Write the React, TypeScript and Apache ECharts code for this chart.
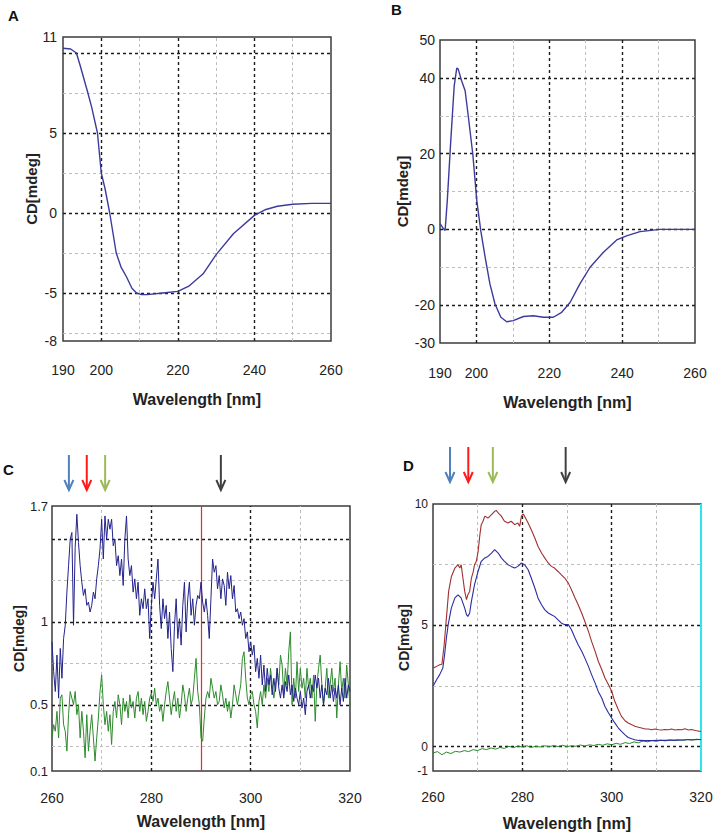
import React, { useEffect, useRef } from "react";
import * as echarts from "echarts";

// ---------- Panel A ----------
const aWave = [190, 192, 193.5, 194.5, 196.5, 197.5, 199, 200, 201, 202.2, 203.9, 205.2, 206.6, 208, 209.2, 210.5, 212, 216, 220, 223, 226.6, 230, 234.5, 240, 243, 246, 250, 255, 260];
const aCD = [10.3, 10.25, 10.0, 9.2, 7.5, 6.6, 5.0, 2.5, 1.5, 0, -2.5, -3.4, -4.0, -4.7, -5.0, -5.1, -5.1, -5.0, -4.9, -4.55, -3.8, -2.6, -1.3, -0.15, 0.22, 0.42, 0.55, 0.6, 0.6];
const aXLabels = [190, 200, 220, 240, 260];
const aYLabels = [11, 5, 0, -5, -8];

// ---------- Panel B ----------
const bWave = [190, 190.7, 191.4, 192, 192.9, 193.9, 194.6, 195, 195.9, 196.9, 197.8, 199, 200.1, 201.2, 202.4, 203.7, 205.1, 206.7, 208.3, 210.1, 212.9, 215.6, 218.4, 221.1, 223.4, 225.7, 228.4, 231.2, 234.8, 238.5, 241.2, 244.9, 248.6, 250.4, 260];
const bCD = [1.5, 0.5, -0.3, 7.6, 22.5, 37.9, 42.6, 42.3, 39.3, 36.6, 29.6, 19.9, 7.6, -0.4, -7.4, -14.4, -19.7, -23.2, -24.4, -24.1, -23, -22.8, -23.2, -23.2, -21.9, -19.3, -14.4, -10.0, -6.1, -2.8, -1.7, -0.6, -0.2, 0, 0];
const bXLabels = [190, 200, 220, 240, 260];
const bYLabels = [50, 40, 20, 0, -20, -30];

// ---------- Panel C (sampled every 1/3 nm from 260 nm) ----------
const cStart = 260;
const cStep = 1 / 3;
const cBlue = [
  0.88, 0.70, 0.58, 0.80, 0.54, 0.84, 0.66, 0.90, 0.98, 1.18,
  1.34, 1.50, 1.54, 0.98, 1.45, 1.65, 1.48, 1.34, 1.24, 1.16,
  1.20, 1.10, 1.12, 1.06, 1.10, 1.18, 1.14, 1.26, 1.34, 1.44,
  1.62, 1.38, 1.64, 1.50, 1.62, 1.56, 1.62, 1.46, 1.50, 1.34,
  1.40, 1.28, 1.38, 1.22, 1.50, 1.64, 1.38, 1.28, 1.34, 1.18,
  1.26, 1.14, 1.24, 1.04, 1.14, 1.08, 1.20, 1.08, 1.14, 0.90,
  1.10,
  1.24, 1.14, 1.26, 1.38, 1.10, 0.96, 1.14, 1.02, 1.10, 0.90,
  1.06, 0.84, 0.70, 0.98, 1.14, 0.90, 1.02, 0.86, 1.10, 1.24,
  0.94, 1.14, 1.24, 1.04, 1.14, 0.98, 1.10, 1.16, 1.14, 1.24,
  1.12, 1.06, 1.14, 1.04, 0.90, 1.14, 1.38, 1.30, 1.34, 1.20,
  1.28, 1.14, 1.26, 1.22, 1.10, 1.30, 1.20, 1.28, 1.14, 1.22,
  1.06, 1.08, 1.02, 1.06, 0.98, 1.02, 0.90, 0.94, 0.82, 0.88,
  0.80, 0.86, 0.70, 0.78, 0.66, 0.80, 0.62, 0.74, 0.58, 0.72,
  0.62, 0.68, 0.56, 0.66, 0.58, 0.72, 0.60, 0.54, 0.62, 0.54,
  0.64, 0.58, 0.68, 0.56, 0.62, 0.52, 0.60, 0.54, 0.50, 0.58,
  0.48, 0.54, 0.44, 0.58, 0.62, 0.54, 0.62, 0.58, 0.68, 0.60,
  0.66, 0.54, 0.62, 0.50, 0.60, 0.56, 0.66, 0.54, 0.62, 0.52,
  0.60, 0.54, 0.62, 0.50, 0.60, 0.52, 0.66, 0.54, 0.62, 0.58,
];
const cGreen = [
  0.30, 0.38, 0.34, 0.46, 0.30, 0.54, 0.56, 0.38, 0.34, 0.22,
  0.44, 0.58, 0.54, 0.50, 0.58, 0.44, 0.50, 0.30, 0.46, 0.34,
  0.18, 0.44, 0.22, 0.34, 0.44, 0.30, 0.16, 0.30, 0.42, 0.58,
  0.68, 0.50, 0.38, 0.46, 0.34, 0.44, 0.26, 0.46, 0.52, 0.42,
  0.56, 0.50, 0.38, 0.54, 0.46, 0.52, 0.42, 0.56, 0.48, 0.52,
  0.42, 0.54, 0.58, 0.46, 0.54, 0.44, 0.52, 0.40, 0.46, 0.54,
  0.57,
  0.52, 0.60, 0.50, 0.54, 0.46, 0.50, 0.40, 0.50, 0.58, 0.64,
  0.54, 0.44, 0.52, 0.58, 0.46, 0.54, 0.42, 0.50, 0.62, 0.56,
  0.46, 0.54, 0.60, 0.50, 0.54, 0.66, 0.78, 0.58, 0.50, 0.30,
  0.28, 0.42, 0.54, 0.58, 0.54, 0.66, 0.60, 0.54, 0.58, 0.50,
  0.52, 0.62, 0.56, 0.48, 0.54, 0.46, 0.52, 0.42, 0.50, 0.62,
  0.56, 0.50, 0.56, 0.62, 0.78, 0.82, 0.66, 0.54, 0.50, 0.56,
  0.58, 0.50, 0.46, 0.36, 0.52, 0.58, 0.50, 0.62, 0.54, 0.66,
  0.58, 0.72, 0.62, 0.54, 0.62, 0.72, 0.62, 0.80, 0.74, 0.56,
  0.72, 0.62, 0.82, 0.94, 0.50, 0.66, 0.54, 0.76, 0.58, 0.72,
  0.60, 0.66, 0.54, 0.72, 0.60, 0.66, 0.54, 0.68, 0.40, 0.62,
  0.72, 0.80, 0.62, 0.50, 0.60, 0.72, 0.54, 0.62, 0.72, 0.58,
  0.66, 0.42, 0.62, 0.76, 0.58, 0.66, 0.54, 0.74, 0.62, 0.50,
];
const cXLabels = [260, 280, 300, 320];
const cYLabels = [1.7, 1, 0.5, 0.1];
const cMarkedNm = 290;
const cArrowNm = [263.4, 267.0, 270.7, 294.0];

// ---------- Panel D ----------
const dRedWave = [260, 260.8, 261.5, 262, 262.5, 263, 263.5, 264.1, 264.9, 265.6, 266, 266.3, 266.7, 267.1, 267.5, 267.8, 268.2, 268.6, 269, 269.3, 269.7, 270.1, 270.5, 270.8, 271.2, 271.6, 272.3, 273.1, 273.8, 274.2, 274.6, 275.3, 276, 276.8, 277.5, 278.3, 279, 279.4, 279.8, 280.2, 280.5, 281.3, 282, 282.8, 283.5, 284.3, 285, 285.8, 286.5, 287.2, 288, 288.7, 289.5, 290.3, 291, 291.8, 292.5, 293.3, 294, 294.8, 295.5, 296.3, 297, 297.8, 298.5, 299.3, 300, 300.7, 301.5, 302.2, 303, 303.7, 304.5, 305.2, 306, 306.7, 307.5, 308.2, 309, 309.7, 310.5, 311.2, 311.9, 312.7, 313.4, 314.2, 314.9, 315.7, 316.4, 317.2, 317.9, 318.7, 320];
const dRed = [3.24, 3.31, 3.38, 3.4, 4.2, 5.3, 6.4, 7.0, 7.36, 7.5, 7.36, 7.5, 6.95, 6.4, 6.06, 6.26, 6.4, 6.95, 7.2, 7.5, 7.64, 8.05, 8.74, 9.15, 9.29, 9.5, 9.42, 9.56, 9.7, 9.73, 9.63, 9.5, 9.29, 9.22, 9.29, 9.15, 9.22, 9.08, 9.5, 9.59, 9.5, 9.22, 8.94, 8.6, 8.26, 7.98, 7.78, 7.57, 7.43, 7.36, 7.22, 7.09, 6.95, 6.74, 6.47, 6.13, 5.85, 5.5, 5.16, 4.75, 4.34, 3.93, 3.52, 3.17, 2.83, 2.55, 2.28, 1.87, 1.52, 1.25, 1.07, 0.98, 0.91, 0.84, 0.8, 0.77, 0.73, 0.73, 0.7, 0.73, 0.7, 0.69, 0.71, 0.7, 0.73, 0.69, 0.71, 0.7, 0.74, 0.69, 0.71, 0.67, 0.63];
const dBlueWave = [260, 260.8, 261.5, 262.2, 262.6, 263, 263.4, 264.1, 264.9, 265.6, 266.3, 267.1, 267.5, 267.8, 268.2, 268.6, 269.3, 270.1, 270.8, 271.6, 272.3, 273.1, 273.8, 274.6, 275.3, 276, 276.8, 277.5, 278.3, 279, 279.8, 280.5, 281.3, 282, 282.8, 283.5, 284.3, 285, 285.8, 286.5, 287.2, 288, 288.7, 289.5, 290.3, 291, 291.8, 292.5, 293.3, 294, 294.8, 295.5, 296.3, 297, 297.8, 298.5, 299.3, 300, 300.7, 301.5, 302.2, 303, 303.7, 304.5, 305.2, 306, 307.5, 309, 310.5, 312, 313.4, 315, 316.4, 318, 320];
const dBlue = [2.49, 2.76, 2.97, 3.24, 3.79, 4.48, 5.03, 5.71, 6.13, 6.26, 6.13, 5.71, 5.44, 5.37, 5.5, 5.99, 6.68, 7.23, 7.64, 7.78, 7.84, 7.98, 8.12, 7.98, 7.78, 7.64, 7.5, 7.43, 7.36, 7.43, 7.57, 7.5, 7.29, 6.95, 6.54, 6.13, 5.85, 5.65, 5.51, 5.44, 5.37, 5.23, 5.1, 5.03, 5.03, 4.82, 4.48, 4.2, 3.93, 3.65, 3.31, 2.97, 2.62, 2.28, 2.0, 1.66, 1.39, 1.18, 0.98, 0.77, 0.63, 0.49, 0.38, 0.33, 0.29, 0.26, 0.25, 0.25, 0.26, 0.26, 0.27, 0.27, 0.29, 0.29, 0.3];
const dGreenStart = 260;
const dGreen = [
  -0.26, -0.2, -0.33, -0.22, -0.28, -0.19, -0.22, -0.16, -0.2, -0.12,
  -0.16, -0.08, -0.12, -0.05, -0.1, -0.03, -0.07, 0.02, -0.04, 0.03,
  -0.02, 0.04, -0.03, 0.02, -0.01, 0.04, 0, 0.05, 0.01, 0.06,
  0, 0.04, 0.02, 0.07, 0.03, 0.08, 0.05, 0.1, 0.06, 0.12,
  0.08, 0.14, 0.1, 0.17, 0.13, 0.2, 0.16, 0.24, 0.2, 0.26,
  0.22, 0.27, 0.24, 0.28, 0.25, 0.29, 0.26, 0.3, 0.27, 0.31,
  0.29,
];
const dXLabels = [260, 280, 300, 320];
const dYLabels = [10, 5, 0, -1];
const dArrowNm = [263.8, 267.9, 273.4, 289.7];
const arrowColors = ["#4f81bd", "#ff1a1a", "#9bbb59", "#404040"];

const FONT = "'Liberation Sans', Arial, sans-serif";
const NARROW = "'Liberation Sans Narrow', 'Arial Narrow', 'Liberation Sans', sans-serif";

const zip = (xs: number[], ys: number[]) => ys.map((y, i) => [xs[i], y]);
const seq = (start: number, step: number, ys: number[]) => ys.map((y, i) => [start + i * step, y]);

const majorStyle = { color: "#1c1c1c", width: 1.4, type: [3, 3] };
const minorStyle = { color: "#bdbdbd", width: 1, type: [3, 3] };

function gridLines(xMaj: number[], xMin: number[], yMaj: number[], yMin: number[], extra: any[] = []) {
  return {
    silent: true,
    symbol: "none",
    z: 1,
    animation: false,
    label: { show: false },
    emphasis: { disabled: true },
    data: [
      ...xMin.map((v) => ({ xAxis: v, lineStyle: minorStyle })),
      ...yMin.map((v) => ({ yAxis: v, lineStyle: minorStyle })),
      ...xMaj.map((v) => ({ xAxis: v, lineStyle: majorStyle })),
      ...yMaj.map((v) => ({ yAxis: v, lineStyle: majorStyle })),
      ...extra,
    ],
  };
}

function xAx(gridIndex: number, min: number, max: number, labels: number[], margin: number, nameGap: number, fontSize: number, family: string) {
  return {
    type: "value",
    gridIndex,
    min,
    max,
    axisLine: { show: false },
    axisTick: { show: false },
    splitLine: { show: false },
    axisLabel: { customValues: labels, fontSize, color: "#222", margin, fontFamily: family },
    name: "Wavelength [nm]",
    nameLocation: "middle",
    nameGap,
    nameTextStyle: { fontWeight: "bold", fontSize: 16, color: "#222", fontFamily: FONT },
  };
}

function yAx(gridIndex: number, min: number, max: number, labels: number[], margin: number, nameGap: number, fontSize: number, family: string, nameSize: number) {
  return {
    type: "value",
    gridIndex,
    min,
    max,
    axisLine: { show: false },
    axisTick: { show: false },
    splitLine: { show: false },
    axisLabel: { customValues: labels, fontSize, color: "#222", margin, fontFamily: family },
    name: "CD[mdeg]",
    nameLocation: "middle",
    nameGap,
    nameTextStyle: { fontWeight: "bold", fontSize: nameSize, color: "#222", fontFamily: FONT },
  };
}

function line(xi: number, data: number[][], color: string, width: number, z: number, markLine?: any) {
  const s: any = {
    type: "line",
    xAxisIndex: xi,
    yAxisIndex: xi,
    data,
    showSymbol: false,
    symbol: "none",
    lineStyle: { color, width },
    z,
    silent: true,
    animation: false,
  };
  if (markLine) s.markLine = markLine;
  return s;
}

const gridBase = { show: true, borderColor: "#3c3c3c", borderWidth: 1.5, backgroundColor: "#fff", containLabel: false };

export default function App() {
  const ref = useRef<HTMLDivElement>(null);
  useEffect(() => {
    document.body.style.margin = "0";
    const chart = echarts.init(ref.current!, null, { renderer: "svg" });
    const option: any = {
      animation: false,
      backgroundColor: "#fff",
      textStyle: { fontFamily: FONT },
      grid: [
        { ...gridBase, left: 63, top: 37, width: 268, height: 304 },
        { ...gridBase, left: 440, top: 40, width: 255, height: 303 },
        { ...gridBase, left: 52, top: 506, width: 298, height: 265 },
        { ...gridBase, left: 433, top: 504, width: 268, height: 267 },
      ],
      xAxis: [
        xAx(0, 190, 260, aXLabels, 22, 50, 14, FONT),
        xAx(1, 190, 260, bXLabels, 23, 51, 14, FONT),
        xAx(2, 260, 320, cXLabels, 20, 42, 14, NARROW),
        xAx(3, 260, 320, dXLabels, 19, 44, 14, NARROW),
      ],
      yAxis: [
        yAx(0, -8, 11, aYLabels, 6, 24, 14, FONT, 15),
        yAx(1, -30, 50, bYLabels, 5, 30, 14, FONT, 15),
        yAx(2, 0.1, 1.7, cYLabels, 4, 22, 13, NARROW, 14),
        yAx(3, -1, 10, dYLabels, 5, 20, 12, NARROW, 14),
      ],
      series: [
        line(0, zip(aWave, aCD), "#3b3b9e", 1.4, 2, gridLines([200, 220, 240], [210, 230, 250], [10, 5, 0, -5], [7.5, 2.5, -2.5, -7.5])),
        line(1, zip(bWave, bCD), "#3b3b9e", 1.4, 2, gridLines([200, 220, 240], [210, 230, 250], [40, 20, 0, -20], [30, 10, -10])),
        line(2, seq(cStart, cStep, cGreen), "#2e8b2e", 1, 2, gridLines([280, 300], [270, 310], [1.5, 1.0, 0.5], [1.25, 0.75, 0.25], [
          { xAxis: cMarkedNm, lineStyle: { color: "#ff1f1f", width: 1.2, type: "solid", opacity: 1 } },
        ])),
        line(2, seq(cStart, cStep, cBlue), "#23238c", 1, 3),
        line(3, seq(dGreenStart, 1, dGreen), "#2a8a2a", 1, 2, gridLines([280, 300], [270, 290, 310], [5, 0], [7.5, 2.5], [
          { xAxis: 320, lineStyle: { color: "#2ee6f0", width: 2, type: "solid" } },
        ])),
        line(3, zip(dRedWave, dRed), "#a0302f", 1.1, 3),
        line(3, zip(dBlueWave, dBlue), "#2c2ca0", 1.1, 3),
      ],
    };
    chart.setOption(option);

    const graphics: any[] = [
      { type: "text", left: 8, top: 8, style: { text: "A", font: `bold 15px ${FONT}`, fill: "#111" } },
      { type: "text", left: 391, top: 2, style: { text: "B", font: `bold 15px ${FONT}`, fill: "#111" } },
      { type: "text", left: 3, top: 462, style: { text: "C", font: `bold 15px ${FONT}`, fill: "#111" } },
      { type: "text", left: 403, top: 458, style: { text: "D", font: `bold 15px ${FONT}`, fill: "#111" } },
    ];
    const addArrows = (axisIndex: number, nms: number[], y1: number, y2: number) => {
      nms.forEach((nm, i) => {
        const x = chart.convertToPixel({ xAxisIndex: axisIndex }, nm) as number;
        const color = arrowColors[i];
        graphics.push({
          type: "line",
          shape: { x1: x, y1, x2: x, y2: y2 - 1 },
          style: { stroke: color, lineWidth: 2 },
          silent: true,
        });
        graphics.push({
          type: "polyline",
          shape: { points: [[x - 4.5, y2 - 10], [x, y2], [x + 4.5, y2 - 10]] },
          style: { stroke: color, lineWidth: 2, fill: null },
          silent: true,
        });
      });
    };
    addArrows(2, cArrowNm, 455, 490);
    addArrows(3, dArrowNm, 447, 482);
    chart.setOption({ graphic: graphics });

    return () => chart.dispose();
  }, []);
  return <div ref={ref} style={{ width: 718, height: 834 }} />;
}
